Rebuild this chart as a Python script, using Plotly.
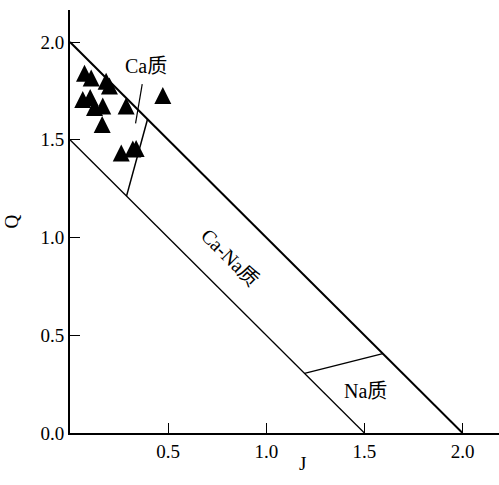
import plotly.graph_objects as go

# sample points (J, Q)
j_values = [0.074, 0.108, 0.184, 0.201, 0.065, 0.103, 0.167, 0.125, 0.286, 0.164, 0.473, 0.261, 0.320, 0.337]
q_values = [1.841, 1.816, 1.800, 1.775, 1.706, 1.716, 1.673, 1.665, 1.673, 1.578, 1.726, 1.432, 1.453, 1.455]

# boundary lines
upper_j = [0.0, 2.0]
upper_q = [2.0, 0.0]
lower_j = [0.0, 1.5]
lower_q = [1.5, 0.0]
ca_bound_j = [0.288, 0.395]
ca_bound_q = [1.212, 1.605]
na_bound_j = [1.195, 1.594]
na_bound_q = [0.305, 0.406]
pointer_j = [0.334, 0.368]
pointer_q = [1.584, 1.785]

x_ticks = [0.5, 1.0, 1.5, 2.0]
x_tick_text = ["0.5", "1.0", "1.5", "2.0"]
y_ticks = [0.0, 0.5, 1.0, 1.5, 2.0]
y_tick_text = ["0.0", "0.5", "1.0", "1.5", "2.0"]

labels = ["Ca质", "Ca-Na质", "Na质"]
label_j = [0.385, 0.813, 1.505]
label_q = [1.875, 0.899, 0.216]
label_angle = [0, 45, 0]

FONT = "'Liberation Serif', 'Times New Roman', 'Noto Sans CJK SC', serif"

fig = go.Figure()
fig.add_trace(go.Scatter(x=upper_j, y=upper_q, mode="lines",
                         line=dict(color="black", width=2), hoverinfo="skip"))
fig.add_trace(go.Scatter(x=lower_j, y=lower_q, mode="lines",
                         line=dict(color="black", width=1.3), hoverinfo="skip"))
for bj, bq, w in [(ca_bound_j, ca_bound_q, 1.5), (na_bound_j, na_bound_q, 1.5), (pointer_j, pointer_q, 1.2)]:
    fig.add_trace(go.Scatter(x=bj, y=bq, mode="lines",
                             line=dict(color="black", width=w), hoverinfo="skip"))

fig.add_trace(go.Scatter(
    x=j_values, y=q_values, mode="markers",
    marker=dict(symbol="arrow-down", angle=180, standoff=8.5, size=17, color="black",
                line=dict(width=0)),
))

for t, lx, ly, a in zip(labels, label_j, label_q, label_angle):
    fig.add_annotation(x=lx, y=ly, xref="x", yref="y", text=t, showarrow=False,
                       textangle=a, font=dict(family=FONT, size=20, color="black"))

fig.add_annotation(x=0.543, y=-(463 - 433) / 423, xref="paper", yref="paper", text="J",
                   showarrow=False, yanchor="middle",
                   font=dict(family=FONT, size=19, color="black"))

fig.update_layout(
    width=499, height=485,
    margin=dict(l=70, r=0, t=10, b=52, autoexpand=False),
    paper_bgcolor="white", plot_bgcolor="white",
    showlegend=False,
    font=dict(family=FONT, size=19, color="black"),
    xaxis=dict(range=[0, 2.186], showgrid=False, zeroline=False, automargin=False,
               showline=True, linecolor="black", linewidth=2,
               ticks="inside", ticklen=10, tickwidth=1.2, tickcolor="black",
               tickvals=x_ticks, ticktext=x_tick_text,
               tickfont=dict(family=FONT, size=19)),
    yaxis=dict(range=[0, 2.164], showgrid=False, zeroline=False, automargin=False,
               showline=True, linecolor="black", linewidth=2,
               ticks="inside", ticklen=10, tickwidth=1.2, tickcolor="black",
               tickvals=y_ticks, ticktext=y_tick_text,
               tickfont=dict(family=FONT, size=19),
               title=dict(text="Q", standoff=17, font=dict(family=FONT, size=19))),
)

fig.write_html("out.html", config={"displayModeBar": False},
               post_script="document.body.style.margin='0px';document.body.style.overflow='hidden';")
